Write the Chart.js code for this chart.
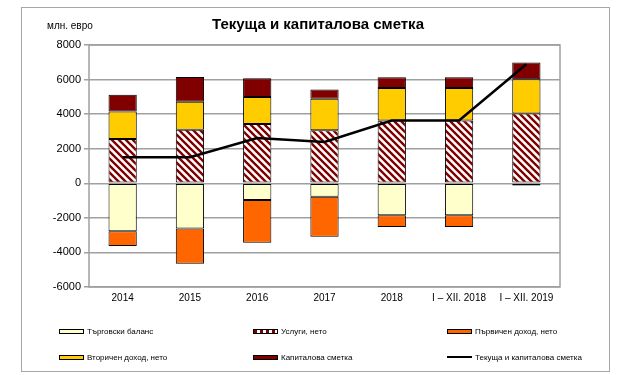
<!DOCTYPE html>
<html>
<head>
<meta charset="utf-8">
<script src="https://cdn.jsdelivr.net/npm/chart.js@4/dist/chart.umd.min.js"></script>
<style>
  html,body{margin:0;padding:0;background:#fff;}
  #wrap{position:relative;width:630px;height:375px;font-family:"Liberation Sans",Arial,sans-serif;}
  #frame{position:absolute;left:21px;top:7px;width:589px;height:365px;border:1px solid #a6a6a6;box-sizing:border-box;}
  #cv{position:absolute;left:0;top:0;}
  #title{position:absolute;left:0;width:636px;top:15px;text-align:center;font-weight:bold;font-size:15px;color:#000;}
  #unit{position:absolute;left:47px;top:20px;font-size:10px;color:#000;}
  .lg{position:absolute;font-size:8px;color:#000;display:flex;align-items:center;white-space:nowrap;height:12px;}
  .sw{display:inline-block;width:25px;height:5px;border:1px solid #000;margin-right:3px;box-sizing:border-box;}
</style>
</head>
<body>
<div id="wrap">
  <div id="frame"></div>
  <canvas id="cv" width="630" height="375"></canvas>
  <div id="title">Текуща и капиталова сметка</div>
  <div id="unit">млн. евро</div>
  <div id="legend"></div>
</div>
<script>
const categories = ["2014","2015","2016","2017","2018","I – XII. 2018","I – XII. 2019"];
const tradeBalance = [-2780,-2620,-970,-780,-1845,-1845,-120];
const servicesNet = [2560,3100,3430,3070,3630,3630,4040];
const primaryIncome = [-850,-2040,-2470,-2310,-680,-680,-20];
const secondaryIncome = [1590,1610,1560,1820,1880,1880,1980];
const capitalAccount = [970,1440,1090,540,620,620,970];
const currentCapital = [1510,1510,2620,2390,3630,3630,6890];
const seriesNames = ["Търговски баланс","Услуги, нето","Първичен доход, нето","Вторичен доход, нето","Капиталова сметка","Текуща и капиталова сметка"];
const yTicks = [-6000,-4000,-2000,0,2000,4000,6000,8000];

function stripePattern(){
  const p=7;
  const c=document.createElement('canvas');c.width=p;c.height=p;
  const x=c.getContext('2d');
  x.fillStyle='#fff';x.fillRect(0,0,p,p);
  x.strokeStyle='#7f0000';x.lineWidth=2.4;
  x.beginPath();
  for(const o of [-p,0,p]){x.moveTo(o-1,-1);x.lineTo(o+p+1,p+1);}
  x.stroke();
  return x.createPattern(c,'repeat');
}
const ctx=document.getElementById('cv').getContext('2d');
const stripes=stripePattern();

const frameBorder={id:'frameBorder',afterDraw(ch){const a=ch.chartArea,c=ch.ctx;c.save();c.strokeStyle='#a0a0a0';c.lineWidth=1.5;c.strokeRect(a.left,a.top,a.right-a.left,a.bottom-a.top);c.restore();}};

const barCommon={borderColor:'#000',borderWidth:1,borderSkipped:false,barPercentage:0.42,categoryPercentage:1,stack:'s',order:2};
new Chart(ctx,{
  data:{labels:categories,datasets:[
    Object.assign({type:'bar',label:seriesNames[0],data:tradeBalance,backgroundColor:'#ffffcc'},barCommon),
    Object.assign({type:'bar',label:seriesNames[1],data:servicesNet,backgroundColor:stripes},barCommon),
    Object.assign({type:'bar',label:seriesNames[2],data:primaryIncome,backgroundColor:'#ff6600'},barCommon),
    Object.assign({type:'bar',label:seriesNames[3],data:secondaryIncome,backgroundColor:'#ffcc00'},barCommon),
    Object.assign({type:'bar',label:seriesNames[4],data:capitalAccount,backgroundColor:'#800000'},barCommon),
    {type:'line',label:seriesNames[5],data:currentCapital,borderColor:'#000',borderWidth:2.5,pointRadius:0,tension:0,stack:'line',order:1,fill:false}
  ]},
  options:{
    responsive:false,animation:false,
    layout:{padding:{left:0,right:70,top:45,bottom:68}},
    plugins:{legend:{display:false},tooltip:{enabled:false}},
    scales:{
      x:{stacked:true,grid:{display:false,drawTicks:false},border:{display:false},
        ticks:{color:'#000',font:{family:'Liberation Sans',size:10},padding:5,maxRotation:0,autoSkip:false},
        afterFit(s){s.height=20;}},
      y:{stacked:true,min:-6000,max:8000,
        afterBuildTicks(s){s.ticks=yTicks.map(v=>({value:v}));},
        grid:{color:'#a0a0a0',lineWidth:1.5,tickLength:5,drawTicks:true,tickColor:'#a0a0a0'},
        border:{display:false},
        ticks:{color:'#000',font:{family:'Liberation Sans',size:11},padding:3,callback:v=>String(v)},
        afterFit(s){s.width=89;}}
    }
  },
  plugins:[frameBorder]
});

const lg=document.getElementById('legend');
const swatches=[
  {bg:'#ffffcc'},{bg:'repeating-linear-gradient(90deg,#7f0000 0 3px,#fff 3px 6px)'},{bg:'#ff6600'},
  {bg:'#ffcc00'},{bg:'#800000'},{line:true}
];
const colX=[59,253,447], rowY=[331,357];
seriesNames.forEach((n,i)=>{
  const d=document.createElement('div');d.className='lg';
  d.style.left=colX[i%3]+'px';
  d.style.top=(rowY[Math.floor(i/3)]-6)+'px';
  const s=document.createElement('span');s.className='sw';
  if(swatches[i].line){s.style.border='none';s.style.height='2px';s.style.background='#000';}
  else s.style.background=swatches[i].bg;
  d.appendChild(s);
  const t=document.createElement('span');t.textContent=n;d.appendChild(t);
  lg.appendChild(d);
});
</script>
</body>
</html>
